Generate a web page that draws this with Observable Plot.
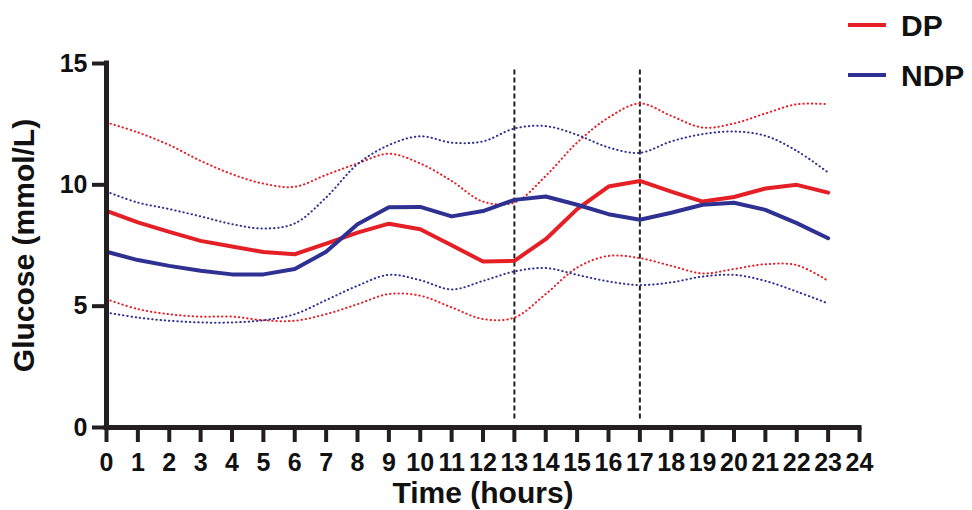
<!DOCTYPE html>
<html><head><meta charset="utf-8">
<script src="https://cdn.jsdelivr.net/npm/d3@7"></script>
<script src="https://cdn.jsdelivr.net/npm/@observablehq/plot@0.6"></script>
<style>
body{margin:0;background:#fff;}
#wrap{position:relative;width:972px;height:510px;font-family:"Liberation Sans",Arial,sans-serif;}
.lg{position:absolute;font-weight:bold;font-size:30px;line-height:30px;color:#111;}
.sw{position:absolute;height:4px;width:38px;}
g[aria-label="x-axis label"] text, g[aria-label="y-axis label"] text{font-size:30px;}
</style></head><body><div id="wrap"></div>
<script>
const hours = [0,1,2,3,4,5,6,7,8,9,10,11,12,13,14,15,16,17,18,19,20,21,22,23];
const dpMean  = [8.93,8.45,8.06,7.69,7.46,7.23,7.14,7.58,8.03,8.40,8.17,7.51,6.84,6.87,7.76,9.00,9.93,10.16,9.72,9.31,9.50,9.85,10.00,9.68];
const dpUpper = [12.57,12.16,11.64,10.99,10.44,10.05,9.92,10.41,10.88,11.28,10.88,10.16,9.31,9.27,10.37,11.74,12.77,13.35,12.84,12.36,12.53,12.94,13.32,13.32];
const dpLower = [5.29,4.88,4.67,4.57,4.57,4.42,4.40,4.67,5.08,5.50,5.43,4.95,4.47,4.53,5.50,6.59,7.07,6.98,6.66,6.35,6.53,6.73,6.69,6.04];
const ndpMean  = [7.24,6.90,6.66,6.46,6.31,6.31,6.53,7.24,8.38,9.08,9.09,8.70,8.92,9.38,9.52,9.18,8.79,8.56,8.85,9.18,9.26,8.97,8.42,7.80];
const ndpUpper = [9.72,9.27,9.00,8.70,8.38,8.20,8.41,9.48,10.85,11.64,12.00,11.74,11.79,12.32,12.42,12.06,11.54,11.32,11.79,12.09,12.20,12.02,11.40,10.51];
const ndpLower = [4.74,4.53,4.40,4.33,4.33,4.42,4.67,5.25,5.84,6.29,6.07,5.69,6.04,6.43,6.57,6.29,6.02,5.87,5.98,6.22,6.29,6.04,5.60,5.11];
const markerHours = [13,17];
const markerSpan = [0.35,14.8];
const xTicks = d3.range(0,25);
const yTicks = [0,5,10,15];
const groups = ["DP","NDP"];
const colors = ["#e41f26","#2e3192"];

const rows = [];
const add = (arr, group, stat) => arr.forEach((v,i)=>rows.push({hour:hours[i], value:v, group, stat, key:group+"-"+stat}));
add(dpMean,"DP","mean"); add(dpUpper,"DP","upper"); add(dpLower,"DP","lower");
add(ndpMean,"NDP","mean"); add(ndpUpper,"NDP","upper"); add(ndpLower,"NDP","lower");
const meanRows = rows.filter(d=>d.stat==="mean");
const bandRows = rows.filter(d=>d.stat!=="mean");
const ink = "#231f20";

const chart = Plot.plot({
  width: 972, height: 510,
  marginLeft: 106, marginRight: 113, marginTop: 63, marginBottom: 83,
  style: {fontFamily: '"Liberation Sans", Arial, sans-serif', fontWeight: "bold", fontSize: "25px", color: "#111", background: "#fff"},
  x: {domain: [0,24]},
  y: {domain: [0,15]},
  color: {domain: groups, range: colors},
  marks: [
    Plot.ruleX(markerHours, {y1: markerSpan[0], y2: markerSpan[1], stroke: ink, strokeWidth: 2, strokeDasharray: "5,3"}),
    Plot.line(bandRows, {x: "hour", y: "value", z: "key", stroke: "group", strokeWidth: 2, strokeDasharray: "0.4,3.8", strokeLinecap: "round", curve: "catmull-rom"}),
    Plot.line(meanRows, {x: "hour", y: "value", z: "key", stroke: "group", strokeWidth: 4, curve: "linear"}),
    Plot.ruleY([0], {x1: 0, x2: 24, stroke: ink, strokeWidth: 5, strokeLinecap: "square"}),
    Plot.ruleX([0], {y1: 0, y2: 15, stroke: ink, strokeWidth: 5, strokeLinecap: "square"}),
    Plot.axisX({ticks: xTicks, tickFormat: d=>String(d), tickSize: 15, tickPadding: 11, strokeWidth: 4, stroke: ink,
      label: "Time (hours)", labelAnchor: "center", labelArrow: "none", labelOffset: 75}),
    Plot.axisY({ticks: yTicks, tickSize: 14, tickPadding: 5, strokeWidth: 4, stroke: ink,
      label: "Glucose (mmol/L)", labelAnchor: "center", labelArrow: "none", labelOffset: 94})
  ]
});
const wrap = document.getElementById("wrap");
wrap.appendChild(chart);
const legendTops = [11, 61];
groups.forEach((g,i)=>{
  const sw = document.createElement("div");
  sw.className = "sw"; sw.style.left = "848px"; sw.style.top = (legendTops[i]+12)+"px"; sw.style.background = colors[i];
  wrap.appendChild(sw);
  const t = document.createElement("div");
  t.className = "lg"; t.style.left = "901px"; t.style.top = legendTops[i]+"px"; t.textContent = g;
  wrap.appendChild(t);
});
</script></body></html>
